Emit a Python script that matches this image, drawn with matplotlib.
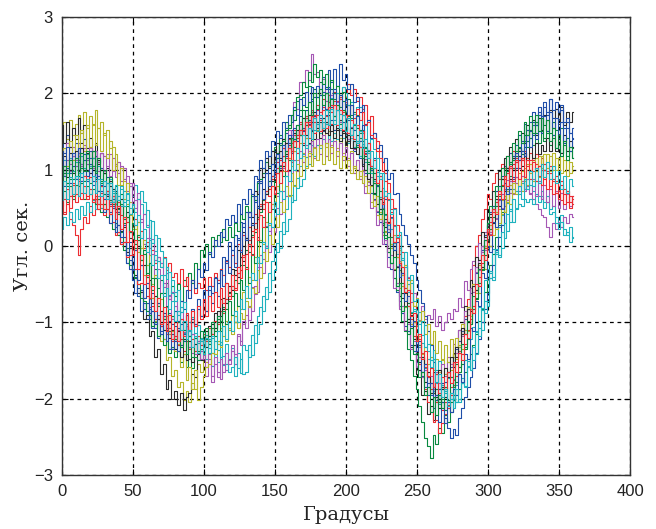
import numpy as np
import matplotlib
matplotlib.use("Agg")
import matplotlib.pyplot as plt

STEP = 2  # degrees between samples (0 .. 360)

b1 = [1.38,1.22,1.45,1.30,1.18, 1.35,1.12,1.28,1.40,1.15, 1.25,1.05,1.18,0.92,1.02, 0.78,0.90,0.55,0.62,0.35,
      0.28,0.05,0.12,-0.22,-0.30, -0.45,-0.62,-0.55,-0.85,-0.75, -0.95,-0.82,-1.08,-0.98,-1.20, -1.05,-1.22,-1.10,-1.35,-1.15,
      -1.25,-1.08,-1.30,-1.15,-1.02, -1.18,-0.95,-1.05,-0.82,-0.92, -0.72,-0.85,-0.58,-0.62,-0.40, -0.48,-0.30,-0.15,-0.22,0.05,
      -0.05,0.15,0.08,0.32,0.25, 0.45,0.38,0.65,0.58,0.85, 0.82,1.02,0.95,1.18,1.08, 1.25,1.15,1.35,1.28,1.48,
      1.35,1.52,1.40,1.58,1.45, 1.55,1.42,1.65,1.52,1.70, 1.55,1.68,1.50,1.72,1.58, 1.65,1.52,1.58,1.45,1.62,
      1.48,1.38,1.45,1.25,1.32, 1.15,1.08,0.95,0.88,0.70, 0.62,0.45,0.32,0.18,0.02, -0.15,-0.30,-0.42,-0.60,-0.72,
      -0.88,-1.05,-1.12,-1.30,-1.38, -1.52,-1.62,-1.70,-1.85,-1.80, -1.95,-1.85,-2.02,-1.88,-1.80, -1.78,-1.65,-1.58,-1.42,-1.35,
      -1.25,-1.12,-0.95,-0.82,-0.62, -0.52,-0.35,-0.18,-0.05,0.15, 0.28,0.45,0.52,0.72,0.78, 0.92,1.05,1.02,1.22,1.18,
      1.32,1.45,1.38,1.60,1.52, 1.62,1.75,1.58,1.82,1.70, 1.88,1.72,1.92,1.68,1.80, 1.65,1.78,1.55,1.62,1.48,
      1.55]
g1 = [0.72,0.95,0.78,0.88,0.65, 0.92,0.78,1.02,0.85,0.98, 0.82,1.05,0.90,0.72,0.85, 0.68,0.82,0.60,0.55,0.70,
      0.42,0.55,0.30,0.38,0.18, 0.15,-0.02,0.08,-0.18,-0.10, -0.35,-0.22,-0.42,-0.30,-0.55, -0.45,-0.62,-0.48,-0.70,-0.52,
      -0.65,-0.50,-0.72,-0.45,-0.52, -0.35,-0.48,-0.22,-0.30,-0.05, -0.15,0.02,-0.10,0.12,0.00, 0.15,0.05,0.22,0.08,0.25,
      0.12,0.30,0.20,0.42,0.35, 0.52,0.45,0.68,0.60,0.82, 0.88,0.95,1.10,1.05,1.25, 1.30,1.22,1.45,1.40,1.62,
      1.55,1.72,1.65,1.90,1.78, 1.95,1.82,2.10,1.92,2.05, 1.95,2.15,1.98,2.08,1.88, 2.05,1.92,2.00,1.82,1.90,
      1.75,1.85,1.68,1.60,1.72, 1.48,1.52,1.30,1.25,1.05, 0.95,0.80,0.72,0.50,0.42, 0.22,0.12,-0.05,-0.15,-0.32,
      -0.48,-0.60,-0.75,-0.88,-1.05, -1.18,-1.30,-1.45,-1.55,-1.72, -1.80,-1.92,-1.88,-2.05,-2.00, -2.15,-2.02,-2.18,-1.95,-2.05,
      -1.88,-1.80,-1.65,-1.58,-1.42, -1.30,-1.15,-0.98,-0.82,-0.60, -0.42,-0.25,-0.10,0.12,0.28, 0.45,0.62,0.75,0.92,1.02,
      1.18,1.30,1.25,1.45,1.38, 1.52,1.45,1.62,1.50,1.68, 1.58,1.65,1.48,1.62,1.52, 1.45,1.55,1.38,1.42,1.30,
      1.28]
r1 = [0.58,0.42,0.55,0.35,0.28, 0.15,-0.12,0.22,0.38,0.30, 0.52,0.40,0.62,0.48,0.70, 0.55,0.68,0.52,0.65,0.45,
      0.58,0.40,0.52,0.32,0.42, 0.25,0.35,0.12,0.20,-0.02, 0.05,-0.12,-0.05,-0.22,-0.15, -0.28,-0.15,-0.32,-0.22,-0.40,
      -0.35,-0.48,-0.30,-0.52,-0.40, -0.58,-0.45,-0.62,-0.48,-0.55, -0.42,-0.58,-0.40,-0.52,-0.35, -0.45,-0.30,-0.38,-0.20,-0.28,
      -0.12,-0.22,0.02,-0.05,0.15, 0.08,0.25,0.20,0.42,0.35, 0.55,0.48,0.72,0.65,0.88, 0.85,1.02,0.98,1.18,1.15,
      1.32,1.25,1.45,1.42,1.60, 1.52,1.70,1.62,1.78,1.72, 1.85,1.75,1.92,1.80,1.98, 1.85,2.02,1.90,1.95,2.08,
      1.95,2.12,1.98,2.05,1.90, 1.95,1.80,1.85,1.65,1.70, 1.48,1.38,1.25,1.10,0.95, 0.82,0.62,0.50,0.28,0.15,
      -0.08,-0.25,-0.42,-0.62,-0.78, -1.05,-1.22,-1.40,-1.58,-1.72, -1.88,-1.98,-2.05,-1.95,-2.15, -2.05,-2.12,-1.85,-1.75,-1.52,
      -1.38,-1.15,-0.92,-0.70,-0.45, -0.25,0.00,0.15,0.35,0.48, 0.68,0.62,0.82,0.95,0.88, 1.08,1.02,1.18,1.10,1.25,
      1.15,1.28,1.12,1.22,1.05, 1.12,0.98,1.08,0.92,1.00, 0.88,0.95,0.78,0.85,0.70, 0.72,0.60,0.75,0.58,0.65,
      0.55]
c1 = [0.22,0.38,0.28,0.45,0.32, 0.48,0.35,0.52,0.40,0.58, 0.45,0.60,0.48,0.65,0.50, 0.62,0.48,0.58,0.70,0.55,
      0.65,0.52,0.72,0.60,0.78, 0.65,0.80,0.62,0.55,0.42, 0.47,0.10,0.33,-0.07,0.10, -0.06,-0.38,-0.27,-0.64,-0.45,
      -0.60,-0.90,-0.80,-1.14,-0.90, -1.00,-1.15,-1.14,-1.27,-1.20, -1.13,-1.48,-1.22,-1.57,-1.25, -1.36,-1.45,-1.44,-1.54,-1.48,
      -1.33,-1.70,-1.40,-1.67,-1.30, -1.36,-1.45,-1.17,-1.27,-0.92, -0.80,-0.85,-0.54,-0.60,-0.20, -0.03,-0.08,0.20,0.16,0.48,
      0.67,0.58,0.80,0.76,1.05, 1.20,1.05,1.33,1.20,1.52, 1.60,1.48,1.63,1.60,1.78, 1.94,1.65,2.00,1.73,2.08,
      2.00,1.85,1.88,1.73,1.82, 1.82,1.48,1.58,1.26,1.40, 1.27,0.92,0.96,0.63,0.72, 0.60,0.22,0.26,-0.10,-0.02,
      -0.16,-0.55,-0.50,-0.87,-0.82, -0.96,-1.32,-1.27,-1.60,-1.48, -1.60,-1.90,-1.80,-2.07,-1.82, -1.93,-2.05,-1.92,-2.00,-1.82,
      -1.68,-1.80,-1.50,-1.57,-1.22, -1.06,-1.12,-0.80,-0.84,-0.45, -0.30,-0.35,-0.04,-0.10,0.25, 0.40,0.30,0.56,0.46,0.75,
      0.72,0.68,0.82,0.75,0.88, 0.80,0.72,0.85,0.65,0.72, 0.58,0.65,0.48,0.52,0.38, 0.30,0.40,0.22,0.15,0.25,
      0.10]
p1 = [1.08,0.92,1.12,0.98,1.18, 1.05,1.22,1.08,1.28,1.12, 1.30,1.15,1.25,1.10,1.22, 1.18,1.05,1.20,0.98,1.08,
      0.95,1.05,0.88,0.92,0.78, 0.82,0.50,0.69,0.32,0.42, 0.28,-0.02,0.09,-0.18,-0.15, -0.22,-0.54,-0.36,-0.70,-0.60,
      -0.72,-1.00,-0.86,-1.13,-1.05, -1.12,-1.40,-1.21,-1.50,-1.38, -1.42,-1.70,-1.48,-1.78,-1.55, -1.65,-1.74,-1.54,-1.63,-1.50,
      -1.38,-1.54,-1.18,-1.30,-1.02, -0.90,-0.97,-0.54,-0.63,-0.28, -0.12,-0.17,0.26,0.20,0.55, 0.70,0.66,1.06,1.02,1.35,
      1.52,1.46,1.89,1.80,2.15, 2.15,2.30,2.18,2.52,2.25, 2.28,1.98,2.19,1.90,2.02, 1.98,1.70,1.89,1.62,1.72,
      1.68,1.40,1.56,1.27,1.38, 1.30,0.98,1.14,0.84,0.90, 0.82,0.46,0.62,0.27,0.32, 0.22,-0.12,0.04,-0.26,-0.20,
      -0.28,-0.60,-0.41,-0.73,-0.62, -0.68,-0.97,-0.78,-0.96,-0.90, -0.95,-0.82,-1.05,-0.92,-1.10, -1.00,-0.88,-0.95,-0.82,-0.85,
      -0.68,-0.80,-0.46,-0.58,-0.30, -0.20,-0.34,0.04,-0.08,0.18, 0.28,0.16,0.49,0.37,0.60, 0.68,0.53,0.86,0.70,0.85,
      0.82,0.78,0.85,0.72,0.78, 0.68,0.62,0.55,0.48,0.40, 0.38,0.25,0.12,0.30,0.22, 0.32,0.25,0.38,0.30,0.42,
      0.38]
y1 = [1.42,1.62,1.40,1.65,1.45, 1.60,1.72,1.48,1.75,1.55, 1.70,1.58,1.78,1.55,1.62, 1.45,1.52,1.28,1.30,1.05,
      1.10,0.80,0.85,0.55,0.58, 0.22,0.28,-0.08,-0.02,-0.38, -0.40,-0.70,-0.68,-0.98,-0.95, -1.25,-1.22,-1.50,-1.45,-1.70,
      -1.62,-1.85,-1.78,-2.02,-1.90, -2.05,-1.80,-1.88,-1.55,-1.65, -1.40,-1.52,-1.28,-1.40,-1.18, -1.28,-1.08,-1.18,-0.98,-1.10,
      -0.90,-1.00,-0.78,-0.82,-0.60, -0.68,-0.40,-0.45,-0.15,-0.22, 0.08,0.02,0.32,0.28,0.55, 0.52,0.78,0.72,0.98,0.92,
      1.15,1.05,1.25,1.12,1.35, 1.22,1.42,1.25,1.50,1.30, 1.52,1.32,1.55,1.30,1.50, 1.32,1.48,1.28,1.42,1.22,
      1.38,1.15,1.25,1.02,1.12, 0.92,1.00,0.78,0.85,0.58, 0.68,0.40,0.45,0.15,0.20, -0.08,-0.02,-0.30,-0.28,-0.55,
      -0.52,-0.80,-0.78,-1.02,-1.00, -1.25,-1.18,-1.42,-1.32,-1.55, -1.45,-1.62,-1.48,-1.65,-1.50, -1.68,-1.52,-1.62,-1.42,-1.48,
      -1.30,-1.35,-1.10,-1.12,-0.85, -0.88,-0.58,-0.62,-0.28,-0.30, 0.05,0.00,0.30,0.22,0.48, 0.42,0.65,0.58,0.80,0.70,
      0.90,0.78,0.98,0.85,1.08, 0.95,1.12,0.98,1.18,1.02, 1.20,1.02,1.18,1.00,1.15, 1.05,1.18,0.98,1.12,0.95,
      1.05]
k1 = [1.58,1.35,1.62,1.30,1.55, 1.40,1.68,1.35,1.58,1.28, 1.42,1.15,1.35,1.08,1.22, 0.95,1.02,0.78,0.75,0.48,
      0.50,0.20,0.25,-0.08,-0.02, -0.35,-0.38,-0.62,-0.60,-0.95, -0.90,-1.18,-1.12,-1.45,-1.35, -1.68,-1.55,-1.88,-1.75,-2.00,
      -1.90,-2.08,-1.92,-2.15,-1.98, -1.92,-1.68,-1.72,-1.42,-1.50, -1.22,-1.32,-1.05,-1.15,-0.88, -1.00,-0.70,-0.82,-0.48,-0.60,
      -0.30,-0.38,-0.05,-0.15,0.18, 0.10,0.45,0.38,0.72,0.68, 1.02,0.90,1.15,1.02,1.25, 1.10,1.35,1.15,1.40,1.20,
      1.42,1.22,1.48,1.28,1.52, 1.32,1.58,1.35,1.62,1.40, 1.62,1.42,1.68,1.48,1.72, 1.50,1.70,1.52,1.65,1.48,
      1.62,1.38,1.55,1.28,1.45, 1.18,1.30,1.00,1.08,0.80, 0.88,0.55,0.62,0.28,0.35, -0.02,0.02,-0.32,-0.28,-0.65,
      -0.62,-0.98,-0.95,-1.32,-1.30, -1.68,-1.62,-1.95,-1.90,-2.20, -2.10,-2.28,-1.98,-2.12,-1.85, -1.98,-1.65,-1.72,-1.40,-1.45,
      -1.10,-1.15,-0.78,-0.82,-0.45, -0.50,-0.15,-0.18,0.18,0.12, 0.48,0.42,0.72,0.65,0.98, 0.88,1.15,1.02,1.30,1.15,
      1.40,1.25,1.48,1.35,1.58, 1.42,1.65,1.45,1.68,1.52, 1.72,1.50,1.78,1.55,1.80, 1.60,1.82,1.58,1.75,1.62,
      1.75]
b2 = [0.98,0.78,1.02,0.82,1.05, 0.88,1.10,0.85,1.12,0.92, 1.08,0.85,0.95,0.72,0.80, 0.62,0.72,0.45,0.50,0.25,
      0.28,0.02,0.05,-0.22,-0.18, -0.45,-0.40,-0.65,-0.58,-0.82, -0.75,-0.95,-0.85,-1.08,-0.95, -1.12,-0.92,-1.08,-0.88,-1.02,
      -0.85,-0.98,-0.72,-0.82,-0.58, -0.68,-0.45,-0.55,-0.30,-0.40, -0.22,-0.32,-0.08,-0.15,0.08, 0.00,0.18,0.12,0.35,0.28,
      0.40,0.32,0.55,0.42,0.62, 0.55,0.75,0.68,0.92,0.88, 1.12,1.02,1.25,1.18,1.38, 1.32,1.50,1.42,1.62,1.55,
      1.72,1.62,1.82,1.72,1.92, 1.85,2.02,1.88,2.08,1.95, 2.10,1.98,2.22,2.05,2.30, 2.15,2.32,2.10,2.38,2.18,
      2.25,2.05,2.12,1.88,1.95, 1.75,1.85,1.60,1.65,1.42, 1.48,1.28,1.32,1.10,1.15, 0.88,0.95,0.68,0.70,0.42,
      0.28,0.15,0.02,-0.12,-0.22, -0.45,-0.58,-0.75,-0.92,-1.12, -1.30,-1.52,-1.68,-1.88,-2.05, -2.25,-2.38,-2.52,-2.40,-2.48,
      -2.25,-2.12,-1.98,-1.85,-1.72, -1.60,-1.40,-1.22,-1.00,-0.82, -0.62,-0.42,-0.25,-0.05,0.12, 0.28,0.45,0.60,0.75,0.88,
      1.02,1.12,1.25,1.30,1.45, 1.50,1.62,1.58,1.75,1.70, 1.82,1.75,1.92,1.78,1.88, 1.75,1.85,1.62,1.68,1.48,
      1.42]
g2 = [0.52,0.72,0.58,0.78,0.62, 0.80,0.65,0.82,0.62,0.78, 0.68,0.75,0.55,0.62,0.45, 0.55,0.38,0.42,0.22,0.30,
      0.15,0.18,-0.05,-0.02,-0.25, -0.30,-0.42,-0.50,-0.68,-0.72, -0.85,-0.90,-1.05,-1.00,-1.18, -1.15,-1.30,-1.25,-1.40,-1.32,
      -1.45,-1.38,-1.52,-1.42,-1.58, -1.48,-1.60,-1.45,-1.50,-1.35, -1.38,-1.22,-1.25,-1.08,-1.12, -0.95,-0.98,-0.80,-0.82,-0.62,
      -0.65,-0.45,-0.48,-0.25,-0.25, -0.05,-0.08,0.15,0.18,0.38, 0.45,0.60,0.68,0.85,0.92, 1.10,1.15,1.32,1.38,1.52,
      1.58,1.72,1.78,1.95,1.98, 2.15,2.08,2.28,2.15,2.38, 2.22,2.30,2.12,2.25,2.05, 2.18,2.00,2.10,1.92,2.02,
      1.85,1.92,1.72,1.75,1.55, 1.52,1.38,1.28,1.10,1.00, 0.82,0.65,0.48,0.30,0.15, -0.08,-0.22,-0.42,-0.58,-0.78,
      -0.98,-1.12,-1.35,-1.50,-1.70, -1.88,-2.10,-2.30,-2.52,-2.62, -2.78,-2.48,-2.60,-2.38,-2.45, -2.22,-2.30,-2.05,-2.02,-1.78,
      -1.65,-1.55,-1.35,-1.22,-1.02, -0.82,-0.68,-0.48,-0.30,-0.12, 0.08,0.22,0.38,0.52,0.65, 0.78,0.92,0.98,1.10,1.12,
      1.22,1.28,1.20,1.38,1.30, 1.42,1.32,1.48,1.35,1.50, 1.38,1.48,1.32,1.42,1.28, 1.35,1.22,1.32,1.18,1.25,
      1.15]
r2 = [0.78,0.62,0.82,0.65,0.80, 0.68,0.85,0.70,0.78,0.62, 0.75,0.58,0.65,0.48,0.55, 0.40,0.48,0.30,0.32,0.15,
      0.18,0.02,0.05,-0.15,-0.12, -0.32,-0.30,-0.50,-0.48,-0.68, -0.65,-0.80,-0.78,-0.95,-0.90, -1.05,-1.00,-1.15,-1.08,-1.25,
      -1.18,-1.30,-1.22,-1.38,-1.25, -1.35,-1.22,-1.38,-1.18,-1.30, -1.15,-1.25,-1.08,-1.15,-0.98, -1.02,-0.85,-0.88,-0.70,-0.70,
      -0.52,-0.55,-0.35,-0.32,-0.15, -0.10,0.08,0.12,0.30,0.35, 0.52,0.55,0.72,0.75,0.92, 0.95,1.10,1.12,1.28,1.25,
      1.40,1.35,1.52,1.45,1.62, 1.52,1.68,1.58,1.75,1.62, 1.78,1.65,1.82,1.70,1.88, 1.75,1.90,1.78,1.92,1.75,
      1.88,1.72,1.85,1.68,1.80, 1.65,1.75,1.58,1.62,1.45, 1.42,1.25,1.15,0.98,0.85, 0.62,0.48,0.28,0.10,-0.10,
      -0.35,-0.55,-0.78,-0.95,-1.18, -1.38,-1.55,-1.72,-1.88,-2.05, -2.18,-2.30,-2.28,-2.45,-2.32, -2.20,-2.08,-1.95,-1.82,-1.70,
      -1.58,-1.42,-1.28,-1.10,-0.95, -0.78,-0.58,-0.40,-0.22,-0.02, 0.18,0.32,0.45,0.58,0.68, 0.80,0.88,0.95,1.02,1.08,
      1.10,1.18,1.12,1.25,1.15, 1.22,1.12,1.20,1.05,1.15, 1.08,0.98,1.05,0.88,0.92, 0.78,0.85,0.68,0.72,0.58,
      0.62]
c2 = [0.92,1.12,0.95,1.15,0.98, 1.10,0.95,1.18,1.02,1.20, 1.05,1.15,0.98,1.05,0.88, 0.95,0.82,0.88,0.72,0.80,
      0.65,0.75,0.58,0.68,0.50, 0.55,0.45,0.62,0.72,0.58, 0.25,0.34,0.04,0.14,-0.20, -0.28,-0.16,-0.43,-0.34,-0.62,
      -0.72,-0.58,-0.86,-0.74,-1.02, -1.12,-0.93,-1.20,-1.04,-1.25, -1.32,-1.16,-1.33,-1.21,-1.42, -1.52,-1.26,-1.56,-1.28,-1.65,
      -1.58,-1.46,-1.60,-1.48,-1.68, -1.65,-1.30,-1.43,-1.04,-1.15, -1.02,-0.66,-0.70,-0.36,-0.45, -0.32,0.04,-0.03,0.32,0.20,
      0.35,0.67,0.60,0.89,0.78, 0.88,1.17,1.07,1.32,1.18, 1.32,1.28,1.40,1.35,1.45, 1.38,1.48,1.40,1.52,1.42,
      1.45,1.35,1.42,1.30,1.38, 1.18,1.34,1.10,1.22,0.95, 0.85,0.97,0.64,0.76,0.40, 0.28,0.37,0.04,0.12,-0.25,
      -0.38,-0.28,-0.60,-0.48,-0.85, -0.98,-0.86,-1.16,-1.04,-1.38, -1.50,-1.36,-1.63,-1.51,-1.82, -1.90,-1.73,-2.00,-1.74,-2.05,
      -2.00,-1.73,-1.83,-1.51,-1.62, -1.50,-1.13,-1.18,-0.81,-0.88, -0.72,-0.33,-0.40,-0.04,-0.15, -0.02,0.30,0.20,0.49,0.32,
      0.48,0.55,0.52,0.62,0.58, 0.62,0.55,0.68,0.58,0.65, 0.50,0.58,0.42,0.45,0.30, 0.22,0.32,0.15,0.18,0.05,
      0.12]
p2 = [1.28,1.05,1.35,1.08,1.30, 1.12,1.35,1.05,1.32,1.08, 1.28,1.02,1.25,0.98,1.22, 0.98,1.20,0.92,1.15,0.90,
      1.10,0.85,1.02,0.72,0.82, 0.55,0.60,0.32,0.35,0.02, 0.10,-0.22,-0.10,-0.42,-0.30, -0.62,-0.48,-0.80,-0.65,-0.95,
      -0.78,-1.10,-0.95,-1.22,-1.05, -1.32,-1.15,-1.42,-1.25,-1.48, -1.32,-1.58,-1.42,-1.70,-1.45, -1.72,-1.48,-1.65,-1.40,-1.55,
      -1.30,-1.42,-1.15,-1.25,-0.98, -1.08,-0.78,-0.85,-0.52,-0.60, -0.28,-0.35,0.00,-0.08,0.25, 0.18,0.50,0.42,0.72,0.65,
      0.98,0.85,1.12,0.98,1.25, 1.10,1.32,1.18,1.38,1.15, 1.40,1.20,1.45,1.18,1.40, 1.22,1.38,1.18,1.35,1.12,
      1.30,1.05,1.22,0.95,1.12, 0.88,0.98,0.70,0.80,0.50, 0.60,0.28,0.35,0.02,0.08, -0.28,-0.22,-0.55,-0.48,-0.82,
      -0.78,-1.10,-1.02,-1.35,-1.25, -1.58,-1.45,-1.72,-1.62,-1.85, -1.70,-1.88,-1.65,-1.80,-1.55, -1.70,-1.45,-1.55,-1.28,-1.40,
      -1.10,-1.18,-0.85,-0.90,-0.55, -0.60,-0.28,-0.32,0.00,-0.05, 0.28,0.18,0.48,0.35,0.62, 0.50,0.75,0.60,0.85,0.68,
      0.90,0.72,0.92,0.75,0.88, 0.70,0.88,0.65,0.85,0.62, 0.80,0.58,0.75,0.52,0.72, 0.50,0.70,0.48,0.68,0.52,
      0.65]
y2 = [1.02,1.28,1.05,1.38,1.12, 1.45,1.18,1.52,1.25,1.58, 1.30,1.60,1.32,1.55,1.25, 1.48,1.15,1.38,1.00,1.20,
      0.80,1.02,0.62,0.82,0.40, 0.50,0.22,0.32,-0.02,0.08, -0.25,-0.12,-0.50,-0.38,-0.75, -0.70,-0.95,-0.92,-1.15,-1.12,
      -1.38,-1.28,-1.58,-1.42,-1.75, -1.58,-1.88,-1.62,-2.02,-1.85, -1.70,-1.58,-1.55,-1.40,-1.42, -1.25,-1.32,-1.05,-1.25,-1.08,
      -1.15,-0.92,-1.08,-0.88,-0.95, -0.72,-0.80,-0.55,-0.62,-0.32, -0.42,-0.08,-0.20,0.15,0.02, 0.38,0.25,0.58,0.45,0.78,
      0.65,0.95,0.78,1.08,0.92, 1.18,1.02,1.22,1.05,1.28, 1.12,1.32,1.08,1.35,1.12, 1.30,1.08,1.25,1.02,1.18,
      1.02,1.12,0.95,1.05,0.88, 0.98,0.82,0.92,0.70,0.78, 0.52,0.65,0.35,0.50,0.18, 0.32,0.02,0.15,-0.15,-0.05,
      -0.38,-0.25,-0.58,-0.45,-0.78, -0.68,-0.98,-0.85,-1.15,-1.02, -1.28,-1.12,-1.40,-1.25,-1.48, -1.30,-1.52,-1.22,-1.45,-1.20,
      -1.32,-1.02,-1.15,-0.80,-0.92, -0.50,-0.62,-0.25,-0.32,0.00, -0.02,0.28,0.15,0.45,0.30, 0.60,0.45,0.72,0.55,0.82,
      0.68,0.95,0.72,1.02,0.80, 1.08,0.85,1.15,0.90,1.18, 1.00,1.20,0.98,1.22,1.00, 1.15,0.95,1.12,0.92,1.10,
      0.98]
k2 = [0.92,1.18,0.90,1.22,0.95, 1.25,0.98,1.28,1.00,1.22, 0.95,1.25,0.88,1.12,0.78, 0.95,0.65,0.85,0.52,0.72,
      0.45,0.62,0.28,0.45,0.10, 0.18,-0.05,-0.02,-0.25,-0.25, -0.55,-0.45,-0.75,-0.65,-0.95, -0.85,-1.10,-1.02,-1.20,-1.10,
      -1.35,-1.12,-1.45,-1.22,-1.50, -1.25,-1.52,-1.28,-1.40,-1.22, -1.30,-1.12,-1.18,-1.02,-1.08, -0.85,-0.92,-0.68,-0.75,-0.52,
      -0.58,-0.32,-0.40,-0.15,-0.20, 0.10,0.00,0.30,0.22,0.52, 0.48,0.75,0.68,0.95,0.85, 1.15,0.95,1.25,1.05,1.35,
      1.28,1.42,1.38,1.52,1.45, 1.68,1.45,1.72,1.50,1.75, 1.55,1.62,1.52,1.62,1.45, 1.58,1.42,1.55,1.38,1.50,
      1.32,1.45,1.28,1.38,1.20, 1.30,1.05,1.18,0.88,1.02, 0.70,0.78,0.48,0.58,0.25, 0.32,0.00,0.05,-0.28,-0.22,
      -0.68,-0.62,-0.95,-0.90,-1.22, -1.18,-1.52,-1.45,-1.78,-1.65, -1.92,-1.65,-1.95,-1.62,-1.88, -1.60,-1.72,-1.45,-1.58,-1.32,
      -1.40,-1.08,-1.15,-0.82,-0.85, -0.52,-0.58,-0.22,-0.28,0.08, 0.05,0.38,0.30,0.62,0.52, 0.88,0.72,1.02,0.88,1.15,
      1.00,1.18,1.05,1.22,1.12, 1.30,1.15,1.35,1.20,1.32, 1.25,1.42,1.25,1.45,1.25, 1.40,1.22,1.45,1.25,1.38,
      1.30]
b3 = [1.25,0.92,1.30,0.95,1.22, 0.88,1.28,0.90,1.20,0.85, 1.15,0.80,0.95,0.55,0.72, 0.45,0.68,0.30,0.52,0.18,
      0.45,0.12,0.28,-0.12,0.05, -0.32,-0.05,-0.45,-0.25,-0.68, -0.48,-0.88,-0.62,-1.02,-0.75, -1.15,-0.88,-1.25,-0.98,-1.35,
      -1.05,-1.38,-1.02,-1.25,-0.90, -1.18,-0.82,-1.02,-0.70,-0.92, -0.58,-0.85,-0.52,-0.75,-0.42, -0.65,-0.32,-0.52,-0.18,-0.35,
      -0.05,-0.28,0.10,-0.08,0.30, 0.08,0.45,0.28,0.65,0.50, 0.85,0.62,0.95,0.78,1.08, 0.90,1.20,1.02,1.32,1.18,
      1.45,1.22,1.55,1.38,1.70, 1.50,1.78,1.60,1.90,1.68, 1.95,1.72,2.02,1.80,2.08, 1.82,2.05,1.78,1.98,1.72,
      1.92,1.65,1.85,1.52,1.70, 1.38,1.58,1.22,1.35,1.00, 1.15,0.78,0.92,0.48,0.62, 0.18,0.38,-0.05,0.05,-0.40,
      -0.35,-0.72,-0.65,-1.05,-0.98, -1.38,-1.25,-1.65,-1.55,-1.95, -1.80,-2.12,-1.95,-2.30,-2.05, -2.32,-2.05,-2.18,-1.88,-1.95,
      -1.68,-1.78,-1.42,-1.48,-1.08, -1.12,-0.72,-0.78,-0.35,-0.42, 0.00,-0.08,0.32,0.25,0.62, 0.48,0.82,0.68,1.05,0.90,
      1.22,1.02,1.35,1.18,1.52, 1.30,1.58,1.40,1.72,1.48, 1.70,1.50,1.75,1.45,1.68, 1.42,1.62,1.35,1.55,1.25,
      1.40]
g3 = [0.78,1.05,0.82,1.12,0.88, 1.15,0.92,1.22,0.98,1.25, 1.02,1.25,0.95,1.15,0.82, 1.00,0.72,0.90,0.58,0.78,
      0.48,0.68,0.35,0.52,0.18, 0.30,0.02,0.15,-0.18,-0.05, -0.40,-0.22,-0.58,-0.42,-0.78, -0.62,-0.95,-0.78,-1.12,-0.92,
      -1.22,-1.00,-1.32,-1.10,-1.42, -1.18,-1.45,-1.20,-1.38,-1.12, -1.32,-1.08,-1.28,-1.00,-1.18, -0.92,-1.12,-0.85,-1.02,-0.72,
      -0.90,-0.62,-0.78,-0.45,-0.58, -0.28,-0.48,-0.10,-0.22,0.12, 0.05,0.38,0.25,0.58,0.48, 0.85,0.70,1.05,0.92,1.25,
      1.12,1.42,1.30,1.58,1.45, 1.78,1.58,1.88,1.72,2.00, 1.80,2.05,1.85,2.00,1.75, 1.92,1.70,1.85,1.60,1.78,
      1.52,1.70,1.45,1.58,1.30, 1.42,1.15,1.25,0.95,1.02, 0.68,0.82,0.42,0.48,0.10, 0.12,-0.22,-0.15,-0.52,-0.48,
      -0.85,-0.78,-1.15,-1.08,-1.42, -1.40,-1.72,-1.65,-1.95,-1.85, -2.18,-1.98,-2.22,-1.95,-2.12, -1.85,-2.02,-1.72,-1.85,-1.55,
      -1.58,-1.28,-1.32,-0.98,-1.02, -0.65,-0.70,-0.30,-0.32,0.08, 0.30,0.52,0.48,0.78,0.72, 1.02,0.92,1.18,1.08,1.35,
      1.25,1.50,1.35,1.62,1.45, 1.70,1.48,1.72,1.50,1.68, 1.42,1.65,1.38,1.55,1.28, 1.45,1.18,1.38,1.12,1.30,
      1.15]
r3 = [0.70,0.45,0.75,0.50,0.82, 0.58,0.88,0.62,0.92,0.65, 0.90,0.62,0.85,0.55,0.78, 0.48,0.72,0.42,0.65,0.35,
      0.52,0.22,0.38,0.05,0.20, -0.12,0.08,-0.30,-0.12,-0.50, -0.38,-0.68,-0.52,-0.85,-0.68, -1.02,-0.80,-1.12,-0.90,-1.22,
      -0.98,-1.25,-0.95,-1.18,-0.88, -1.10,-0.85,-1.05,-0.78,-0.95, -0.70,-0.92,-0.65,-0.85,-0.60, -0.80,-0.55,-0.75,-0.48,-0.65,
      -0.38,-0.58,-0.28,-0.42,-0.12, -0.30,0.02,-0.12,0.22,0.08, 0.40,0.25,0.58,0.45,0.78, 0.68,0.95,0.82,1.10,0.98,
      1.28,1.10,1.38,1.22,1.52, 1.35,1.62,1.42,1.70,1.48, 1.72,1.50,1.78,1.55,1.82, 1.60,1.85,1.58,1.78,1.52,
      1.72,1.48,1.65,1.40,1.58, 1.30,1.50,1.20,1.35,1.05, 1.12,0.82,0.92,0.55,0.65, 0.30,0.45,0.05,0.15,-0.22,
      -0.28,-0.60,-0.58,-0.92,-0.88, -1.25,-1.15,-1.48,-1.38,-1.70, -1.60,-1.85,-1.68,-1.92,-1.72, -1.88,-1.65,-1.80,-1.52,-1.65,
      -1.40,-1.50,-1.15,-1.20,-0.82, -0.88,-0.50,-0.52,-0.12,-0.18, 0.22,0.15,0.48,0.42,0.72, 0.62,0.92,0.78,1.05,0.85,
      1.12,0.88,1.15,0.90,1.12, 0.88,1.10,0.85,1.05,0.80, 1.00,0.75,0.95,0.68,0.85, 0.62,0.80,0.55,0.72,0.50,
      0.65]
c3 = [0.60,0.85,0.62,0.90,0.68, 0.92,0.65,0.95,0.70,0.88, 0.68,0.92,0.70,0.88,0.65, 0.85,0.62,0.82,0.58,0.80,
      0.60,0.78,0.52,0.70,0.42, 0.55,0.28,0.40,0.10,0.22, -0.08,0.08,-0.25,-0.12,-0.42, -0.38,-0.65,-0.55,-0.82,-0.72,
      -0.98,-0.85,-1.10,-0.98,-1.22, -1.10,-1.32,-1.18,-1.40,-1.22, -1.42,-1.20,-1.40,-1.18,-1.35, -1.12,-1.30,-1.05,-1.22,-0.98,
      -1.12,-0.85,-1.00,-0.70,-0.82, -0.52,-0.68,-0.35,-0.45,-0.15, -0.22,0.05,-0.02,0.30,0.25, 0.58,0.42,0.72,0.62,0.92,
      0.85,1.12,1.00,1.28,1.15, 1.45,1.28,1.55,1.40,1.68, 1.50,1.72,1.55,1.78,1.58, 1.80,1.60,1.78,1.55,1.72,
      1.50,1.68,1.45,1.60,1.35, 1.50,1.28,1.40,1.15,1.25, 1.02,1.15,0.88,0.95,0.65, 0.70,0.42,0.48,0.12,0.18,
      -0.18,-0.08,-0.45,-0.38,-0.72, -0.70,-1.02,-0.98,-1.32,-1.28, -1.58,-1.48,-1.78,-1.68,-1.98, -1.88,-2.10,-1.92,-2.12,-1.88,
      -2.05,-1.80,-1.85,-1.58,-1.62, -1.32,-1.42,-1.08,-1.10,-0.72, -0.78,-0.42,-0.45,-0.08,-0.12, 0.18,0.10,0.42,0.32,0.62,
      0.50,0.78,0.62,0.88,0.75, 0.98,0.78,1.02,0.82,1.08, 0.90,1.10,0.88,1.05,0.82, 0.98,0.75,0.92,0.70,0.88,
      0.78]

series = [b1, g1, r1, c1, p1, y1, k1, b2, g2, r2, c2, p2, y2, k2, b3, g3, r3, c3]
colors = ["#1f4ea8", "#08893f", "#ec2d32", "#1fb2be", "#a558b5", "#b5b52a", "#2b2b2b"]

x_ticks = [0, 50, 100, 150, 200, 250, 300, 350, 400]
y_ticks = [-3, -2, -1, 0, 1, 2, 3]
x_label = "Градусы"
y_label = "Угл. сек."

fig = plt.figure(figsize=(6.56, 5.29), dpi=100)
ax = fig.add_axes([0.0945, 0.1021, 0.8659, 0.8658])

for i, s in enumerate(series):
    xs = np.arange(len(s)) * STEP
    ax.plot(xs, s, color=colors[i % len(colors)], lw=0.8, drawstyle="steps-mid")

ax.set_xlim(0, 400)
ax.set_ylim(-3, 3)
ax.set_xticks(x_ticks)
ax.set_yticks(y_ticks)
ax.grid(True, color="black", linestyle=(0, (3, 3)), linewidth=0.9)
ax.tick_params(direction="in", top=True, right=True, length=4, width=0.8,
               labelsize=12, pad=6.5, labelcolor="#222222")
for lab in ax.get_xticklabels() + ax.get_yticklabels():
    lab.set_family("Liberation Sans")
for sp in ax.spines.values():
    sp.set_linewidth(1.0)
    sp.set_color("#333333")

ax.set_xlabel(x_label, family="DejaVu Serif", fontsize=14, labelpad=5, color="#222222")
ax.set_ylabel(y_label, family="DejaVu Serif", fontsize=14, labelpad=1, color="#222222")

fig.savefig("out.png", dpi=100)
